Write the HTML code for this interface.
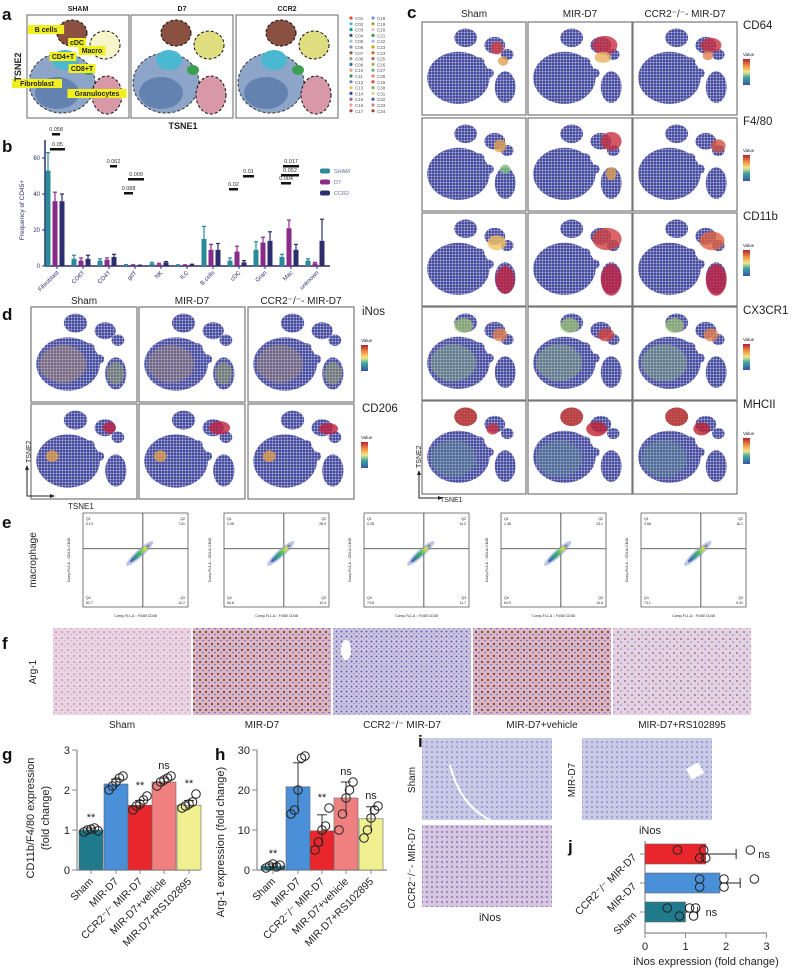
<!DOCTYPE html>
<html><head><meta charset="utf-8">
<style>
html,body{margin:0;padding:0;background:#fff;}
svg{display:block;font-family:"Liberation Sans",sans-serif;}
</style></head>
<body>
<svg id="fig" width="800" height="973" viewBox="0 0 800 973" xmlns="http://www.w3.org/2000/svg">
<defs>
<linearGradient id="cbar" x1="0" y1="1" x2="0" y2="0">
<stop offset="0" stop-color="#3b52a3"/><stop offset="0.3" stop-color="#3fa8a0"/><stop offset="0.5" stop-color="#f2e88a"/><stop offset="0.75" stop-color="#f08a3c"/><stop offset="1" stop-color="#b0203a"/>
</linearGradient>
<linearGradient id="flowg" x1="0" y1="0" x2="1" y2="0">
<stop offset="0" stop-color="#3a5cc0"/><stop offset="0.5" stop-color="#3fb86a"/><stop offset="0.8" stop-color="#e0e040"/><stop offset="1" stop-color="#3a5cc0"/>
</linearGradient>
<pattern id="tsneDots" width="3" height="3" patternUnits="userSpaceOnUse"><rect width="3" height="3" fill="#7074b8"/><circle cx="1" cy="1" r="1" fill="#3f4496"/><circle cx="2.4" cy="2.4" r="0.5" fill="#ffffff" opacity="0.7"/></pattern>
<pattern id="ihcPink" width="6" height="6" patternUnits="userSpaceOnUse"><rect width="6" height="6" fill="#ecd3df"/><circle cx="2" cy="2" r="0.8" fill="#8a7ab8"/><circle cx="5" cy="4.5" r="0.6" fill="#b89ac8"/></pattern>
<pattern id="ihcBlue" width="5" height="5" patternUnits="userSpaceOnUse"><rect width="5" height="5" fill="#cfc6e2"/><circle cx="1.5" cy="1.5" r="1" fill="#5a5fb0"/><circle cx="4" cy="3.8" r="0.7" fill="#7a7ac0"/></pattern>
<pattern id="ihcBrown" width="6" height="6" patternUnits="userSpaceOnUse"><rect width="6" height="6" fill="#d8b8c8"/><circle cx="2" cy="2" r="1.1" fill="#8a3a20"/><circle cx="5" cy="4.5" r="0.8" fill="#6a5ab0"/></pattern>
<pattern id="ihcLight" width="7" height="7" patternUnits="userSpaceOnUse"><rect width="7" height="7" fill="#e3d2e4"/><circle cx="2" cy="2" r="0.8" fill="#8a3a30"/><circle cx="5" cy="5" r="0.8" fill="#8a80c0"/></pattern>
<pattern id="ihcIblue" width="5" height="5" patternUnits="userSpaceOnUse"><rect width="5" height="5" fill="#c9cbe6"/><circle cx="2" cy="2" r="0.8" fill="#6a6ac0"/></pattern>
<pattern id="ihcIpink" width="5" height="5" patternUnits="userSpaceOnUse"><rect width="5" height="5" fill="#d8c6e0"/><circle cx="2" cy="2" r="0.9" fill="#6a60b0"/></pattern>
</defs>
</svg>
<script>
// ---------- data ----------
const bCategories = ["Fibroblast","CD8T","CD4T","gdT","NK","ILC","B cells","cDC","Gran","Mac","unknown"];
const bSham = [53,4,3,0.5,1.5,0.5,15,3,9,5,3];
const bD7 = [36,3,3.5,0.5,1,0.5,9,8,13,21,1.5];
const bCcr2 = [36,4,5,0.3,2,0.8,9,2,14,9,14];
const bShamErr = [10,2,1,0.3,0.5,0.2,7,1.5,4.5,1.5,1];
const bD7Err = [5,1.5,1,0.2,0.5,0.2,3,3,3,4.5,0.5];
const bCcr2Err = [4,2,1.5,0.2,0.5,0.2,3.5,1,5,3,12];
const bTicks = [0,20,40,60];

const groups = ["Sham","MIR-D7","CCR2-/- MIR-D7","MIR-D7+vehicle","MIR-D7+RS102895"];
const gMeans = [1.0,2.15,1.62,2.2,1.62];
const gErr = [0.05,0.12,0.12,0.1,0.12];
const gPoints = [[0.95,1.0,1.02,1.05,0.98],[2.0,2.1,2.2,2.3,2.35],[1.5,1.6,1.65,1.75,1.85],[2.1,2.2,2.25,2.3,2.35],[1.55,1.6,1.65,1.7,1.9]];
const gSig = ["**","","**","ns","**"];
const gTicks = [0,1,2,3];

const hMeans = [1,20.8,9.8,18,12.8];
const hErr = [0.5,6,4,4,3];
const hPoints = [[0.5,1,1.5,0.8,1.2],[14,15,20,28,28.5],[5,7,10,11,15.5],[10,14,18,20,22],[8,10,13,15,16]];
const hSig = ["**","","**","ns","ns"];
const hTicks = [0,10,20,30];

const jCats = ["CCR2-/- MIR-D7","MIR-D7","Sham"];
const jMeans = [1.5,1.85,1.0];
const jErr = [0.75,0.5,0.3];
const jPoints = [[0.8,1.35,1.45,1.5,2.6],[1.35,1.35,1.95,1.95,2.7],[0.55,0.85,1.1,1.2,1.25]];
const jSig = ["ns","","ns"];
const jTicks = [0,1,2,3];

// ---------- helpers ----------
const NS="http://www.w3.org/2000/svg";
const svg=document.getElementById('fig');
function mk(tag,attrs,parent){const e=document.createElementNS(NS,tag);for(const k in attrs)e.setAttribute(k,attrs[k]);(parent||svg).appendChild(e);return e;}
function tx(x,y,s,size,opts,parent){const o=Object.assign({x:x,y:y,'font-size':size,fill:'#222'},opts||{});const e=mk('text',o,parent);e.textContent=s;return e;}
function label(ch,x,y){const t=tx(x,y,ch,17,{'font-weight':'bold',fill:'#111'});}

// ---------- panel a ----------
label('a',2,20);
const aTitles=["SHAM","D7","CCR2"];
const aX=[27,131,236];
aTitles.forEach((t,i)=>{
 const g=mk('g',{});
 
 
 const x=aX[i],y=15,w=102,h=103;
 mk('rect',{x:x,y:y,width:w,height:h,fill:'#fff',stroke:'#666','stroke-width':1},g);
 tx(x+w/2,11,t,7,{'text-anchor':'middle','font-weight':'bold'},g);
 mk('ellipse',{cx:x+35,cy:y+68,rx:33,ry:30,fill:'#7a96c0',stroke:'#111','stroke-dasharray':'3,2',opacity:0.85},g);
 mk('ellipse',{cx:x+30,cy:y+78,rx:22,ry:16,fill:'#4a6aa0',opacity:0.6},g);
 mk('ellipse',{cx:x+38,cy:y+45,rx:13,ry:10,fill:'#4ab8d0'},g);
 mk('ellipse',{cx:x+45,cy:y+18,rx:15,ry:13,fill:'#8a5040',stroke:'#111','stroke-dasharray':'3,2'},g);
 mk('ellipse',{cx:x+80,cy:y+80,rx:15,ry:19,fill:'#d898a8',stroke:'#111','stroke-dasharray':'3,2'},g);
 mk('ellipse',{cx:x+78,cy:y+30,rx:15,ry:14,fill:i==0?'#f6f6c8':'#dede80',stroke:'#111','stroke-dasharray':'3,2'},g);
 mk('ellipse',{cx:x+62,cy:y+55,rx:6,ry:5,fill:'#3aa050'},g);
});
[["B cells",46,31],["cDC",77,44],["Macro",92,52],["CD4+T",63,58],["CD8+T",82,70],["Fibroblast",37,85],["Granulocytes",97,95]].forEach(l=>{
 const w=l[0].length*4.6+4;
 const r=mk('rect',{x:l[1]-w/2,y:l[2]-6,width:w,height:9,fill:'#f0f020'});
 
 
 tx(l[1],l[2]+1,l[0],7,{'text-anchor':'middle','font-weight':'bold'});
});
tx(183,129,'TSNE1',9,{'text-anchor':'middle','font-weight':'bold'});
tx(21,67,'TSNE2',9,{'text-anchor':'middle','font-weight':'bold',transform:'rotate(-90 21 67)'});
const legCols=['#e64b35','#4dbbd5','#00a087','#3c5488','#91d1c2','#8491b4','#7e6148','#b09c85','#2070c0','#f39b7f','#3a8a50','#6a8ab0','#f0c060','#2a50a0','#9060b0','#f4a080','#c04040','#7a90d0','#a0a030','#f0c0c0','#40a040','#a0c0e0','#d0a000','#c07020','#b06070','#a0b040','#60b080','#f08070','#e04050','#80b060','#e0e080','#506090','#d08090','#a04030'];
for(let k=0;k<34;k++){
 const col=k<17?0:1,row=k%17;
 const cx=351+col*22,cy=18+row*5.8;
 mk('circle',{cx:cx,cy:cy,r:1.6,fill:legCols[k]});
 tx(cx+4,cy+2,'C'+String(k+1).padStart(2,'0'),4.5,{fill:'#555'});
}

// ---------- panel b ----------
label('b',2,152);
const bx0=45,bx1=330,by0=266,bys=1.8;
const by=v=>by0-v*bys;
const bxc=i=>57+i*26;
const bg=mk('g',{});


mk('line',{x1:bx0,y1:by0,x2:bx1,y2:by0,stroke:'#2e2e6e','stroke-width':1.5},bg);
mk('line',{x1:bx0,y1:by0,x2:bx0,y2:by(70),stroke:'#2e2e6e','stroke-width':1.5},bg);
bTicks.forEach(t=>{mk('line',{x1:bx0-3,y1:by(t),x2:bx0,y2:by(t),stroke:'#2e2e6e'},bg);tx(bx0-5,by(t)+2,String(t),6,{'text-anchor':'end',fill:'#2e2e6e'},bg);});
tx(24,210,'Frequency of CD45+',6.5,{'text-anchor':'middle',fill:'#2e2e6e',transform:'rotate(-90 24 210)'},bg);
const bSeries=[[bSham,bShamErr,'#2a8a9a','SHAM'],[bD7,bD7Err,'#8a2a8a','D7'],[bCcr2,bCcr2Err,'#2e2e6e','CCR2']];
bCategories.forEach((c,i)=>{
 bSeries.forEach((s,j)=>{
  const x=bxc(i)-9+j*7,v=s[0][i],e=s[1][i];
  const r=mk('rect',{x:x-2.5,y:by(v),width:5,height:by0-by(v),fill:s[2]},bg);
  
  
  mk('line',{x1:x,y1:by(v),x2:x,y2:by(v+e),stroke:s[2],'stroke-width':1.2},bg);
  mk('line',{x1:x-2,y1:by(v+e),x2:x+2,y2:by(v+e),stroke:s[2],'stroke-width':1.2},bg);
 });
 mk('line',{x1:bxc(i),y1:by0,x2:bxc(i),y2:by0+3,stroke:'#2e2e6e'},bg);
 tx(bxc(i)+2,by0+7,c,6,{'text-anchor':'end',fill:'#2e2e6e',transform:'rotate(-45 '+(bxc(i)+2)+' '+(by0+7)+')'},bg);
});
[[52,60,131,'0.058'],[50,65,146,'0.05'],[110,117,163,'0.062'],[128,144,176,'0.009'],[124,133,190,'0.088'],[243,254,173,'0.01'],[229,238,186,'0.02'],[283,299,163,'0.017'],[281,299,172,'0.052'],[281,291,180,'0.004']].forEach(a=>{
 mk('rect',{x:a[0],y:a[2]+2,width:a[1]-a[0],height:2.5,fill:'#111'},bg);
 tx((a[0]+a[1])/2,a[2],a[3],5.5,{'text-anchor':'middle',fill:'#333'},bg);
});
bSeries.forEach((s,j)=>{
 const ly=171+j*11;
 mk('rect',{x:320,y:ly-2.5,width:10,height:5,rx:2,fill:s[2]},bg);
 tx(334,ly+2,s[3],5.5,{fill:'#6a6a9a'},bg);
});

// ---------- tsne expression panels ----------
function tsne(x,y,w,h,hot,name){
 const g=mk('g',{});
 
 
 mk('rect',{x:x,y:y,width:w,height:h,fill:'#fff',stroke:'#777','stroke-width':1.2},g);
 const P=(fx,fy)=>[x+fx*w,y+fy*h];
 const blobs=[[0.35,0.6,0.3,0.28],[0.42,0.17,0.11,0.1],[0.8,0.7,0.1,0.17],[0.55,0.43,0.05,0.05],[0.64,0.55,0.05,0.05],[0.7,0.25,0.1,0.09],[0.82,0.35,0.06,0.06]];
 blobs.forEach(b=>{const p=P(b[0],b[1]);mk('ellipse',{cx:p[0],cy:p[1],rx:b[2]*w,ry:b[3]*h,fill:'url(#tsneDots)'},g);});
 hot.forEach(hh=>{const p=P(hh[0],hh[1]);mk('ellipse',{cx:p[0],cy:p[1],rx:hh[2]*w,ry:hh[3]*h,fill:hh[4],opacity:hh[5]||0.8},g);});
}
const hotC={
 CD64:[[[0.72,0.28,0.06,0.07,'#d04040'],[0.78,0.42,0.05,0.05,'#e0a050']],[[0.74,0.25,0.12,0.1,'#c83040'],[0.72,0.38,0.08,0.06,'#e8b060']],[[0.75,0.25,0.1,0.08,'#c83040'],[0.72,0.36,0.05,0.05,'#e08050']]],
 'F4/80':[[[0.75,0.3,0.06,0.07,'#e0a050'],[0.8,0.55,0.05,0.05,'#80c080']],[[0.8,0.25,0.1,0.1,'#c83040'],[0.8,0.6,0.05,0.07,'#e0a050']],[[0.82,0.3,0.07,0.07,'#d05040']]],
 CD11b:[[[0.72,0.32,0.09,0.08,'#f0c060'],[0.8,0.72,0.09,0.15,'#c02040']],[[0.76,0.28,0.14,0.12,'#d04040'],[0.8,0.72,0.1,0.17,'#c02040']],[[0.76,0.3,0.12,0.1,'#e06040'],[0.8,0.72,0.1,0.17,'#c02040']]],
 CX3CR1:[[[0.4,0.2,0.09,0.08,'#a0c870',0.7],[0.3,0.6,0.22,0.2,'#90c080',0.4],[0.75,0.3,0.07,0.07,'#e08050']],[[0.4,0.2,0.09,0.08,'#a0c870',0.7],[0.3,0.6,0.22,0.2,'#90c080',0.4],[0.75,0.3,0.08,0.07,'#d04040']],[[0.4,0.2,0.09,0.08,'#a0c870',0.7],[0.3,0.6,0.22,0.2,'#90c080',0.4],[0.75,0.3,0.07,0.07,'#e08050']]],
 MHCII:[[[0.42,0.17,0.11,0.1,'#d04030'],[0.68,0.3,0.06,0.06,'#c83040'],[0.3,0.62,0.22,0.2,'#60a090',0.35]],[[0.42,0.17,0.11,0.1,'#d04030'],[0.66,0.3,0.1,0.08,'#c02030'],[0.3,0.62,0.22,0.2,'#60a090',0.35]],[[0.42,0.17,0.11,0.1,'#d04030'],[0.66,0.3,0.08,0.07,'#c02030'],[0.3,0.62,0.22,0.2,'#60a090',0.35]]]
};
// ---------- panel c ----------
label('c',407,18);
const cCols=[422,528,633],cW=104;
const cHeads=["Sham","MIR-D7","CCR2\u207B/\u207B- MIR-D7"];
cHeads.forEach((hd,i)=>{const t=tx(cCols[i]+cW/2,17,hd,10,{'text-anchor':'middle'});});
const cMarkers=["CD64","F4/80","CD11b","CX3CR1","MHCII"];
const cRowY=[22,118,213,307,401];
cMarkers.forEach((m,r)=>{
 cCols.forEach((cx,i)=>tsne(cx,cRowY[r],cW,93,hotC[m][i],'tsne-'+m.toLowerCase().replace('/','')+'-'+i));
 const t=tx(743,cRowY[r]+7,m,11.5,{});
 
 
 tx(743,cRowY[r]+34,'Value',4.5,{});
 const cb=mk('rect',{x:743,y:cRowY[r]+37,width:7,height:26,fill:'url(#cbar)'});
 
 
});
mk('path',{d:'M419 475 V498 H438',stroke:'#222',fill:'none'});
mk('path',{d:'M419 470 l-2 5 h4z M443 498 l-5 -2 v4z',fill:'#222'});
tx(421,468,'TSNE2',7,{transform:'rotate(-90 421 468)'});
tx(440,502,'TSNE1',7,{});

// ---------- panel d ----------
label('d',2,320);
const dCols=[31,139,248],dW=106;
cHeads.forEach((hd,i)=>tx(dCols[i]+dW/2,304,hd,10,{'text-anchor':'middle'}));
const dMarkers=["iNos","CD206"];
const dRowY=[307,404];
const hotD=[
 [[[0.3,0.6,0.22,0.2,'#c8a060',0.35],[0.8,0.7,0.08,0.12,'#a0b060',0.45]],[[0.3,0.6,0.22,0.2,'#c8a060',0.3],[0.8,0.7,0.08,0.12,'#a0b060',0.45]],[[0.3,0.6,0.22,0.2,'#c8a060',0.3],[0.8,0.7,0.08,0.12,'#a0b060',0.45]]],
 [[[0.74,0.25,0.06,0.06,'#c02040'],[0.2,0.55,0.06,0.06,'#e0a050']],[[0.76,0.25,0.1,0.07,'#c02040'],[0.2,0.55,0.06,0.06,'#e0a050']],[[0.76,0.26,0.09,0.06,'#c02040'],[0.2,0.55,0.06,0.06,'#e0a050']]]
];
dMarkers.forEach((m,r)=>{
 dCols.forEach((cx,i)=>tsne(cx,dRowY[r],dW,95,hotD[r][i],'tsne-'+m.toLowerCase()+'-'+i));
 tx(362,dRowY[r]+8,m,11.5,{});
 tx(361,dRowY[r]+35,'Value',4.5,{});
 mk('rect',{x:361,y:dRowY[r]+38,width:7,height:26,fill:'url(#cbar)'});
});
mk('path',{d:'M27 470 V496 H50',stroke:'#222',fill:'none'});
mk('path',{d:'M27 465 l-2 5 h4z M55 496 l-5 -2 v4z',fill:'#222'});
tx(31,463,'TSNE2',7,{transform:'rotate(-90 31 463)'});
tx(68,509,'TSNE1',8,{});

// ---------- panel e ----------
label('e',2,528);
tx(36,560,'macrophage',10,{'text-anchor':'middle',transform:'rotate(-90 36 560)'});
const eX=[83,224,364,501,641];
const q1=["0.13","0.08","0.28","1.48","0.58"],q2=["7.01","28.9","14.2","23.1","16.1"],q3=["10.2","10.4","11.7","10.6","9.31"],q4=["82.7","60.6","73.8","64.9","74.1"];
eX.forEach((x,i)=>{
 const g=mk('g',{});
 
 
 const y=513,w=105,h=94;
 mk('rect',{x:x,y:y,width:w,height:h,fill:'#fff',stroke:'#444','stroke-width':0.7},g);
 mk('line',{x1:x+w*0.57,y1:y,x2:x+w*0.57,y2:y+h,stroke:'#333','stroke-width':0.8},g);
 mk('line',{x1:x,y1:y+h*0.38,x2:x+w,y2:y+h*0.38,stroke:'#333','stroke-width':0.8},g);
 mk('ellipse',{cx:x+w*0.54,cy:y+h*0.43,rx:18,ry:3.8,fill:'#7a8ad0',opacity:0.5,transform:'rotate(-42 '+(x+w*0.54)+' '+(y+h*0.43)+')'},g);
 mk('ellipse',{cx:x+w*0.54,cy:y+h*0.43,rx:13,ry:2.2,fill:'url(#flowg)',transform:'rotate(-42 '+(x+w*0.54)+' '+(y+h*0.43)+')'},g);
 tx(x+3,y+7,'Q1',3.5,{},g);tx(x+3,y+12,q1[i],3.5,{},g);
 tx(x+w-3,y+7,'Q2',3.5,{'text-anchor':'end'},g);tx(x+w-3,y+12,q2[i],3.5,{'text-anchor':'end'},g);
 tx(x+w-3,y+h-8,'Q3',3.5,{'text-anchor':'end'},g);tx(x+w-3,y+h-3,q3[i],3.5,{'text-anchor':'end'},g);
 tx(x+3,y+h-8,'Q4',3.5,{},g);tx(x+3,y+h-3,q4[i],3.5,{},g);
 tx(x+w/2,y+h+10,'Comp-FL1-A :: F4/80 CD48',3.5,{'text-anchor':'middle'},g);
 tx(x-13,y+h/2,'Comp-FL3-A :: CD11b CD48',3.5,{'text-anchor':'middle',transform:'rotate(-90 '+(x-13)+' '+(y+h/2)+')'},g);
});

// ---------- panel f ----------
label('f',2,649);
tx(36,672,'Arg-1',10,{'text-anchor':'middle',transform:'rotate(-90 36 672)'});
const fX=[53,193,333,473,613];
const fFill=['url(#ihcPink)','url(#ihcBrown)','url(#ihcBlue)','url(#ihcBrown)','url(#ihcLight)'];
groups.forEach((gname,i)=>{
 const r=mk('rect',{x:fX[i],y:628,width:138,height:87,fill:fFill[i]});
 
 
 tx(fX[i]+69,728,gname.replace('-/-','\u207B/\u207B'),10,{'text-anchor':'middle'});
});
mk('ellipse',{cx:346,cy:650,rx:5,ry:10,fill:'#fff'});

// ---------- bar+dot chart helper ----------
function dotBar(o){
 const g=mk('g',{});
 
 
 const yv=v=>o.y0-v*o.ys;
 mk('line',{x1:o.ax,y1:o.y0,x2:o.ax,y2:yv(o.ticks[o.ticks.length-1]),stroke:'#888','stroke-width':1.2},g);
 mk('line',{x1:o.ax,y1:o.y0,x2:o.xend,y2:o.y0,stroke:'#888','stroke-width':1.2},g);
 o.ticks.forEach(t=>{mk('line',{x1:o.ax-5,y1:yv(t),x2:o.ax,y2:yv(t),stroke:'#888'},g);tx(o.ax-7,yv(t)+4,String(t),11,{'text-anchor':'end'},g);});
 const cols=['#1f7a8c','#4a90d9','#e8262b','#f08080','#f0f090'];
 o.means.forEach((m,i)=>{
  const cx=o.xs[i];
  const r=mk('rect',{x:cx-12,y:yv(m),width:24,height:o.y0-yv(m),fill:cols[i],stroke:'#666','stroke-width':0.6},g);
  
  
  mk('line',{x1:cx,y1:yv(m-o.err[i]),x2:cx,y2:yv(m+o.err[i]),stroke:'#333','stroke-width':1},g);
  mk('line',{x1:cx-5,y1:yv(m+o.err[i]),x2:cx+5,y2:yv(m+o.err[i]),stroke:'#333','stroke-width':1},g);
  o.pts[i].forEach((p,k)=>{mk('circle',{cx:cx+(k-2)*3.5,cy:yv(p),r:4.3,fill:'none',stroke:'#222','stroke-width':1},g);});
  const top=Math.max(m+o.err[i],Math.max.apply(null,o.pts[i]));
  if(o.sig[i])tx(cx,yv(top)-7,o.sig[i],11,{'text-anchor':'middle'},g);
  mk('line',{x1:cx,y1:o.y0,x2:cx,y2:o.y0+4,stroke:'#888'},g);
  tx(cx+3,o.y0+12,groups[i].replace('-/-','\u207B/\u207B'),10.5,{'text-anchor':'end',transform:'rotate(-45 '+(cx+3)+' '+(o.y0+12)+')'},g);
 });
 o.ylab.forEach((l,k)=>tx(o.ylx+k*15,o.yly,l,11,{'text-anchor':'middle',transform:'rotate(-90 '+(o.ylx+k*15)+' '+o.yly+')'},g));
}
label('g',2,760);
dotBar({name:'cd11b-f480-chart',ax:77,xend:200,y0:870,ys:40,ticks:gTicks,means:gMeans,err:gErr,pts:gPoints,sig:gSig,xs:[91,116,140,164,189],ylab:['CD11b/F4/80 expression','(fold change)'],ylx:34,yly:818});
label('h',215,760);
dotBar({name:'arg1-chart',ax:257,xend:387,y0:870,ys:4.0,ticks:hTicks,means:hMeans,err:hErr,pts:hPoints,sig:hSig,xs:[273,298,322,346,371],ylab:['Arg-1 expression (fold change)'],ylx:224,yly:842});

// ---------- panel i ----------
label('i',418,747);
[[422,738,'url(#ihcIblue)','ihc-inos-sham'],[422,825,'url(#ihcIpink)','ihc-inos-ccr2'],[582,738,'url(#ihcIblue)','ihc-inos-mird7']].forEach(a=>{
 const r=mk('rect',{x:a[0],y:a[1],width:130,height:82,fill:a[2]});
 
 
});
mk('path',{d:'M450 765 q10 40 40 55',stroke:'#fff','stroke-width':2,fill:'none'});
mk('rect',{x:688,y:765,width:14,height:12,fill:'#fff',transform:'rotate(-30 695 771)'});
tx(415,780,'Sham',10,{'text-anchor':'middle',transform:'rotate(-90 415 780)'});
tx(415,868,'CCR2\u207B/\u207B- MIR-D7',10,{'text-anchor':'middle',transform:'rotate(-90 415 868)'});
tx(575,780,'MIR-D7',10,{'text-anchor':'middle',transform:'rotate(-90 575 780)'});
tx(490,921,'iNos',11,{'text-anchor':'middle'});
tx(650,834,'iNos',11,{'text-anchor':'middle'});

// ---------- panel j ----------
label('j',568,852);
(function(){
 const g=mk('g',{});
 
 
 const x0=645,xs=40.5,xv=v=>x0+v*xs;
 const yc=[854,883,912];
 const cols=['#e8262b','#4a90d9','#1f7a8c'];
 mk('line',{x1:x0,y1:841,x2:x0,y2:933,stroke:'#888','stroke-width':1.2},g);
 mk('line',{x1:x0,y1:933,x2:xv(3),y2:933,stroke:'#888','stroke-width':1.2},g);
 jTicks.forEach(t=>{mk('line',{x1:xv(t),y1:933,x2:xv(t),y2:938,stroke:'#888'},g);tx(xv(t),950,String(t),11,{'text-anchor':'middle'},g);});
 tx(706,965,'iNos expression (fold change)',11,{'text-anchor':'middle'},g);
 jMeans.forEach((m,i)=>{
  const r=mk('rect',{x:x0,y:yc[i]-10,width:xv(m)-x0,height:20,fill:cols[i],stroke:'#666','stroke-width':0.6},g);
  
  
  mk('line',{x1:xv(m),y1:yc[i],x2:xv(m+jErr[i]),y2:yc[i],stroke:'#222'},g);
  mk('line',{x1:xv(m+jErr[i]),y1:yc[i]-5,x2:xv(m+jErr[i]),y2:yc[i]+5,stroke:'#222'},g);
  jPoints[i].forEach((p,k)=>mk('circle',{cx:xv(p),cy:yc[i]+((k%2)?4:-4),r:4.3,fill:'none',stroke:'#222','stroke-width':1},g));
  if(jSig[i]){const mx=Math.max(m+jErr[i],Math.max.apply(null,jPoints[i]));tx(xv(mx)+8,yc[i]+4,jSig[i],11,{},g);}
  mk('line',{x1:x0-5,y1:yc[i],x2:x0,y2:yc[i],stroke:'#888'},g);
  tx(x0-8,yc[i]+4,jCats[i].replace('-/-','\u207B/\u207B'),10.5,{'text-anchor':'end',transform:'rotate(-45 '+(x0-8)+' '+(yc[i]+4)+')'},g);
 });
})();
</script>
</body></html>
